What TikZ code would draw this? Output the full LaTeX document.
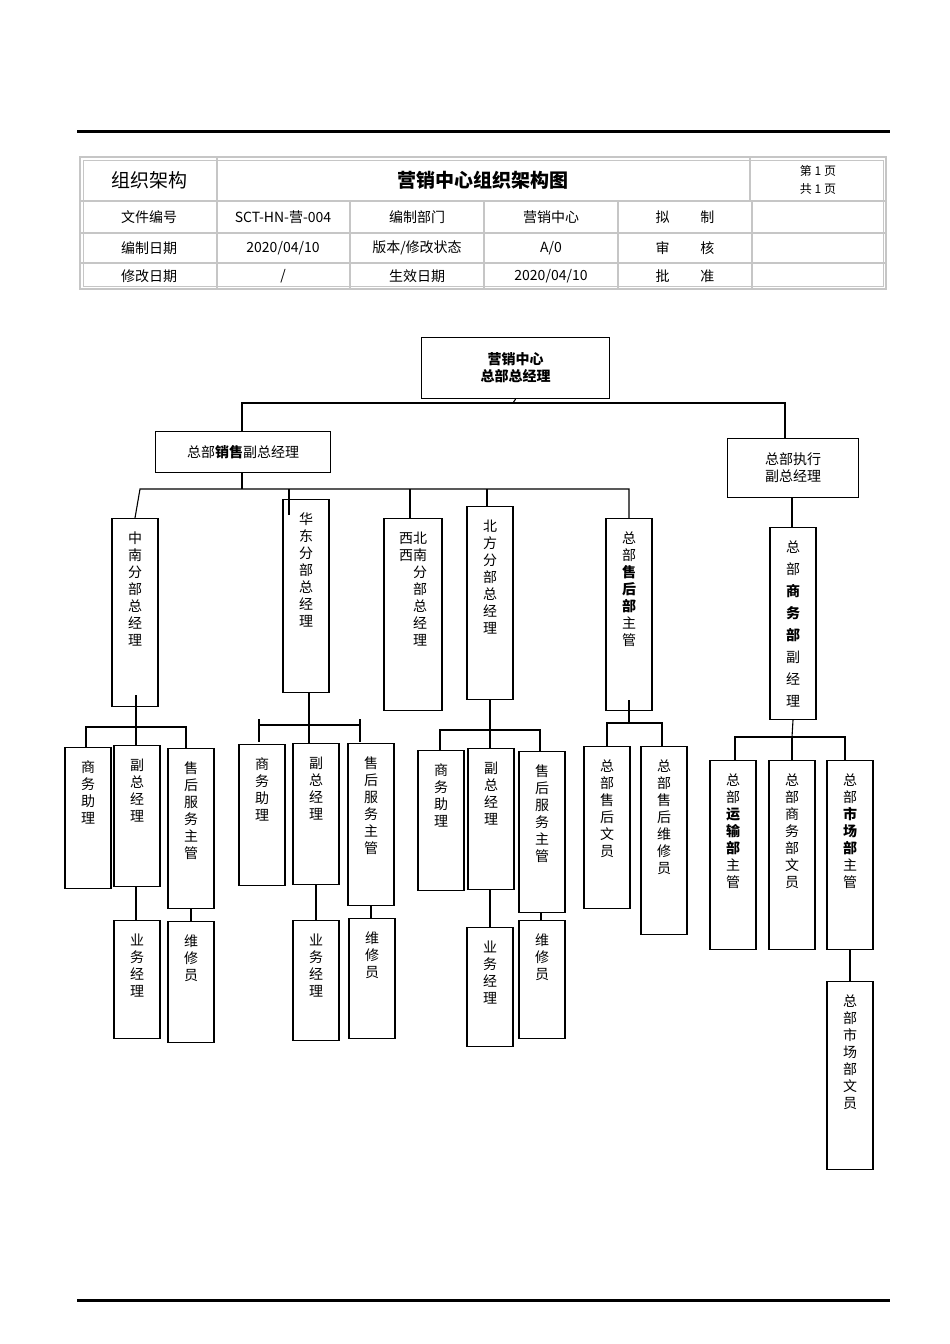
\documentclass[tikz,border=0pt]{standalone}
\usepackage{fontspec}
\setmainfont{Noto Sans CJK SC}
\begin{document}
\begin{tikzpicture}[x=1pt,y=-1pt,line width=1.1pt,
  vb/.style={draw,minimum width=46,anchor=north,inner sep=0},
  hb/.style={draw,anchor=north west,inner sep=0,align=center,font=\fontsize{14}{17}\selectfont},
  cell/.style={font=\fontsize{14}{16}\selectfont},
  grid/.style={draw=gray!45,line width=2pt}]
\useasboundingbox (0,0) rectangle (950,1344);
\newcommand\VB[6][17]{\node[vb,minimum height=#5,label={[anchor=north,yshift=-10,align=center,font=\fontsize{14}{#1}\selectfont]north:#6}] (#2) at (#3,#4) {};}
% header rules
\draw[line width=3pt] (77,131) -- (890,131);
\draw[line width=3pt] (77,1300) -- (890,1300);
% table
\draw[grid] (80,157) rectangle (886,289);
\draw[grid,line width=1pt] (83,160) rectangle (883,286);
\foreach \y in {201,233,263} \draw[grid] (80,\y) -- (886,\y);
\foreach \x in {217,750} \draw[grid] (\x,157) -- (\x,201);
\foreach \x in {217,350,484,618,752} \draw[grid] (\x,201) -- (\x,289);
\node[cell,font=\fontsize{19}{20}\selectfont] (t1) at (149,180) {组织架构};
\node[cell,font=\fontsize{19}{20}\selectfont\bfseries] (t2) at (483,180) {营销中心组织架构图};
\node[cell,align=center,font=\fontsize{12}{18}\selectfont] (t3) at (818,180) {第 1 页\\共 1 页};
\node[cell] (c11) at (149,217) {文件编号};
\node[cell] (c12) at (283,217) {SCT-HN-营-004};
\node[cell] (c13) at (417,217) {编制部门};
\node[cell] (c14) at (551,217) {营销中心};
\node[cell] (c15) at (685,217) {拟\hspace{2.2em}制};
\node[cell] (c21) at (149,248) {编制日期};
\node[cell] (c22) at (283,248) {2020/04/10};
\node[cell] (c23) at (417,248) {版本/修改状态};
\node[cell] (c24) at (551,248) {A/0};
\node[cell] (c25) at (685,248) {审\hspace{2.2em}核};
\node[cell] (c31) at (149,276) {修改日期};
\node[cell] (c32) at (283,276) {/};
\node[cell] (c33) at (417,276) {生效日期};
\node[cell] (c34) at (551,276) {2020/04/10};
\node[cell] (c35) at (685,276) {批\hspace{2.2em}准};
% top levels
\node[hb,minimum width=188,minimum height=61,font=\fontsize{14}{17}\selectfont\bfseries] (gm) at (421,337) {营销中心\\总部总经理};
\node[hb,minimum width=175,minimum height=41] (svp) at (155,431) {总部\textbf{销售}副总经理};
\node[hb,minimum width=131,minimum height=59] (evp) at (727,438) {总部执行\\副总经理};
\coordinate (b0) at (513,403);
\draw (gm.south) -- (b0);
\draw (svp.north -| 242,0) -- (242,403) -- (785,403) -- (evp.north -| 785,0);
% level 2
\VB{zn}{135}{518}{188}{中\\南\\分\\部\\总\\经\\理}
\VB{hd}{306}{499}{193}{华\\东\\分\\部\\总\\经\\理}
\node[vb,minimum width=58,minimum height=192,label={[anchor=north,yshift=-10,align=center,font=\fontsize{14}{17}\selectfont]north:\begin{tabular}{@{}c@{}c@{}}\raisebox{0pt}{西}&北\\西&南\\&分\\&部\\&总\\&经\\&理\end{tabular}}] (xb) at (413,518) {};
\VB{bf}{490}{506}{193}{北\\方\\分\\部\\总\\经\\理}
\VB{sh}{629}{518}{192}{总\\部\\\textbf{售}\\\textbf{后}\\\textbf{部}\\主\\管}
\coordinate (b1) at (242,489);
\draw (svp.south -| 242,0) -- (b1);
\draw (zn.north) -- (140,489) -- (629,489) -- (sh.north);
\draw (289,489) -- (289,515);
\draw (xb.north -| 410,0) -- (410,489);
\draw (bf.north -| 487,0) -- (487,489);
\VB[22]{sw}{793}{527}{192}{总\\部\\\textbf{商}\\\textbf{务}\\\textbf{部}\\副\\经\\理}
\draw (evp.south -| 792,0) -- (sw.north -| 792,0);
% group 1
\VB{g1a}{88}{747}{141}{商\\务\\助\\理}
\VB{g1b}{137}{745}{141}{副\\总\\经\\理}
\VB{g1c}{191}{748}{160}{售\\后\\服\\务\\主\\管}
\VB{g1d}{137}{920}{118}{业\\务\\经\\理}
\VB{g1e}{191}{921}{121}{维\\修\\员}
\draw (136,695) -- (136,727);
\draw (g1a.north -| 86,0) -- (86,727) -- (186,727) -- (g1c.north -| 186,0);
\draw (136,727) -- (g1b.north -| 136,0);
\draw (g1b.south -| 136,0) -- (g1d.north -| 136,0);
\draw (g1c.south) -- (g1e.north);
% group 2
\VB{g2a}{262}{744}{141}{商\\务\\助\\理}
\VB{g2b}{316}{743}{141}{副\\总\\经\\理}
\VB{g2c}{371}{743}{162}{售\\后\\服\\务\\主\\管}
\VB{g2d}{316}{920}{120}{业\\务\\经\\理}
\VB{g2e}{372}{918}{120}{维\\修\\员}
\draw (hd.south -| 309,0) -- (309,725);
\draw (259,725) -- (360,725);
\draw (259,719) -- (259,742);
\draw (360,719) -- (360,742);
\draw (309,725) -- (g2b.north -| 309,0);
\draw (g2b.south) -- (g2d.north);
\draw (g2c.south) -- (g2e.north -| 371,0);
% group 3
\VB{g3a}{441}{750}{140}{商\\务\\助\\理}
\VB{g3b}{491}{748}{141}{副\\总\\经\\理}
\VB{g3c}{542}{751}{161}{售\\后\\服\\务\\主\\管}
\VB{g3d}{490}{927}{119}{业\\务\\经\\理}
\VB{g3e}{542}{920}{118}{维\\修\\员}
\draw (bf.south -| 490,0) -- (490,730);
\draw (g3a.north -| 440,0) -- (440,730) -- (540,730) -- (g3c.north -| 540,0);
\draw (490,730) -- (g3b.north -| 490,0);
\draw (g3b.south -| 490,0) -- (g3d.north);
\draw (g3c.south -| 541,0) -- (541,920);
% group 4
\VB{g4a}{607}{746}{162}{总\\部\\售\\后\\文\\员}
\VB{g4b}{664}{746}{188}{总\\部\\售\\后\\维\\修\\员}
\draw (629,700) -- (629,723);
\draw (g4a.north) -- (607,723) -- (662,723) -- (g4b.north -| 662,0);
% group 5
\VB{g5a}{733}{760}{189}{总\\部\\\textbf{运}\\\textbf{输}\\\textbf{部}\\主\\管}
\VB{g5b}{792}{760}{189}{总\\部\\商\\务\\部\\文\\员}
\VB{g5c}{850}{760}{189}{总\\部\\\textbf{市}\\\textbf{场}\\\textbf{部}\\主\\管}
\VB{g5d}{850}{981}{188}{总\\部\\市\\场\\部\\文\\员}
\draw (sw.south) -- (792,737);
\draw (g5a.north -| 735,0) -- (735,737) -- (845,737) -- (g5c.north -| 845,0);
\draw (792,737) -- (g5b.north);
\draw (g5c.south) -- (g5d.north);
\end{tikzpicture}
\end{document}
